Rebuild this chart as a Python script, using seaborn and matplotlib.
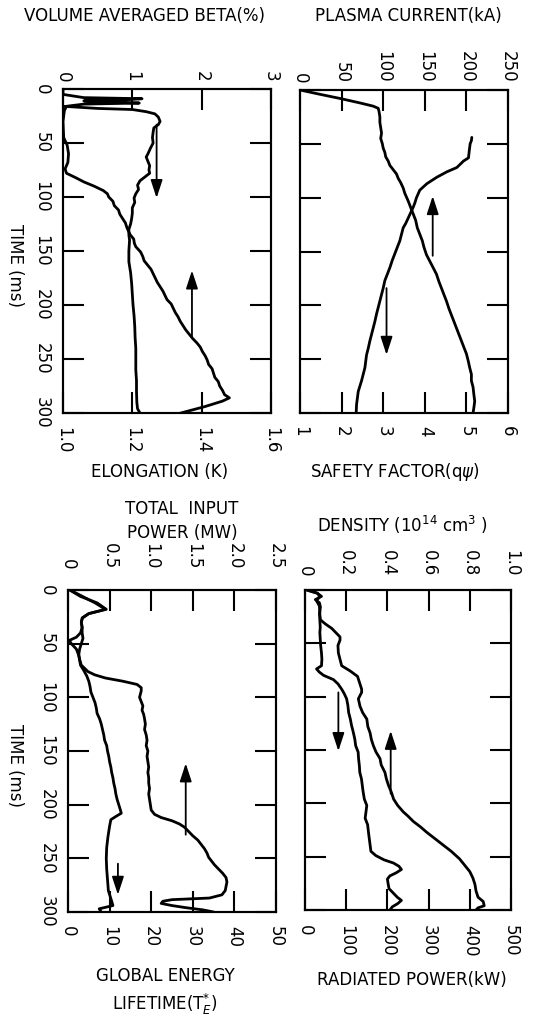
import matplotlib
matplotlib.use("Agg")
import matplotlib.pyplot as plt
import seaborn as sns

# ---------------- data ----------------
time_ticks = [0, 50, 100, 150, 200, 250, 300]

# volume averaged beta (%) and elongation
beta_t = [0, 5, 8, 9, 10, 11, 12, 13, 14, 16, 20, 30, 45, 52, 60, 68, 74, 78, 82, 86,
          90, 94, 97, 100, 104, 108, 112, 116, 120, 124, 128, 131, 135, 139, 143, 146, 151, 155, 159, 163,
          167, 171, 175, 179, 183, 187, 191, 195, 199, 203, 207, 211, 215, 219, 223, 227, 231, 235, 239, 243,
          247, 251, 255, 259, 263, 267, 271, 275, 279, 283, 286, 289, 294, 300]
beta_pct = [0.0, 0.0, 0.3, 1.14, 0.9, 0.3, 0.6, 1.1, 0.3, 0.05, 0.02, 0.0, 0.01, 0.06, 0.08, 0.07, 0.03, 0.05, 0.18, 0.30,
            0.45, 0.58, 0.64, 0.66, 0.72, 0.74, 0.80, 0.82, 0.86, 0.90, 0.92, 0.94, 0.97, 1.02, 1.03, 1.05, 1.12, 1.15, 1.17, 1.22,
            1.27, 1.30, 1.33, 1.36, 1.40, 1.44, 1.47, 1.50, 1.56, 1.59, 1.62, 1.66, 1.69, 1.73, 1.77, 1.82, 1.87, 1.93, 1.98, 2.01,
            2.05, 2.08, 2.10, 2.15, 2.17, 2.19, 2.24, 2.26, 2.30, 2.33, 2.40, 2.30, 2.05, 1.70]
kappa_t = [16, 18, 19, 21, 23, 26, 30, 33, 36, 40, 45, 50, 55, 60, 63, 67, 71, 75, 78, 81,
           85, 89, 93, 97, 101, 105, 110, 115, 120, 125, 130, 135, 140, 150, 160, 170, 180, 190, 200, 210,
           220, 230, 240, 250, 260, 270, 280, 290, 296, 300]
kappa = [1.00, 1.10, 1.20, 1.24, 1.265, 1.275, 1.28, 1.275, 1.262, 1.26, 1.258, 1.26, 1.252, 1.245, 1.24, 1.245, 1.25, 1.248, 1.25, 1.238,
         1.222, 1.215, 1.218, 1.21, 1.205, 1.207, 1.20, 1.20, 1.198, 1.195, 1.19, 1.19, 1.192, 1.19, 1.19, 1.195, 1.198, 1.20, 1.202, 1.205,
         1.207, 1.208, 1.21, 1.21, 1.21, 1.212, 1.212, 1.213, 1.215, 1.222]

# plasma current (kA) and safety factor
ip_t = [0, 4, 8, 12, 15, 17, 20, 25, 30, 35, 40, 45, 50, 54, 58, 62, 66, 70, 74, 78,
        82, 86, 91, 96, 103, 109, 115, 121, 128, 134, 140, 146, 153, 159, 165, 171, 178, 184, 190, 196,
        203, 209, 215, 221, 227, 233, 239, 245, 251, 258, 264, 270, 276, 283, 289, 295, 300]
ip_ka = [0, 24, 49, 72, 88, 94, 95, 96, 96, 97, 98, 97, 99, 100, 102, 103, 106, 108, 112, 116,
         118, 121, 124, 126, 130, 133, 136, 139, 141, 144, 147, 149, 152, 156, 160, 164, 167, 170, 173, 176,
         179, 182, 185, 188, 191, 194, 197, 200, 202, 204, 206, 206, 208, 209, 210, 209, 208]
q_t = [44, 47, 50, 56, 63, 66, 69, 72, 76, 81, 87, 93, 100, 105, 109, 114, 119, 124, 128, 134,
       140, 146, 152, 158, 165, 171, 177, 184, 190, 196, 202, 208, 215, 221, 227, 233, 240, 246, 252, 258,
       264, 270, 275, 280, 286, 292, 300]
q_psi = [5.13, 5.12, 5.09, 5.07, 5.05, 4.93, 4.85, 4.77, 4.53, 4.29, 4.05, 3.88, 3.80, 3.76, 3.72, 3.66, 3.60, 3.54, 3.48, 3.44,
         3.40, 3.34, 3.28, 3.22, 3.16, 3.10, 3.04, 3.00, 2.96, 2.92, 2.88, 2.84, 2.80, 2.76, 2.72, 2.68, 2.64, 2.60, 2.58, 2.56,
         2.52, 2.48, 2.44, 2.40, 2.38, 2.36, 2.35]

# total input power (MW) and global energy lifetime (ms)
pin_t = [0, 6, 12, 18, 22, 26, 30, 35, 40, 45, 50, 55, 60, 65, 70, 73, 76, 79, 82, 85,
         88, 91, 94, 97, 100, 104, 108, 112, 116, 120, 125, 130, 135, 140, 145, 150, 155, 160, 165, 170,
         175, 180, 185, 190, 195, 200, 205, 209, 212, 215, 218, 221, 225, 229, 233, 237, 241, 245, 249, 252,
         256, 260, 264, 268, 272, 276, 280, 284, 287, 288.5, 290, 292, 294, 296, 298, 300]
pin_mw = [0.02, 0.15, 0.35, 0.46, 0.25, 0.17, 0.16, 0.17, 0.17, 0.18, 0.16, 0.14, 0.13, 0.14, 0.16, 0.20, 0.24, 0.32, 0.45, 0.66,
          0.83, 0.88, 0.88, 0.87, 0.86, 0.88, 0.90, 0.89, 0.91, 0.92, 0.93, 0.92, 0.94, 0.95, 0.94, 0.96, 0.95, 0.96, 0.97, 0.96,
          0.97, 0.97, 0.98, 0.97, 0.98, 0.99, 1.00, 1.04, 1.12, 1.25, 1.34, 1.40, 1.45, 1.50, 1.56, 1.60, 1.64, 1.67, 1.69, 1.72,
          1.76, 1.81, 1.86, 1.90, 1.91, 1.90, 1.89, 1.85, 1.70, 1.25, 1.14, 1.12, 1.25, 1.42, 1.62, 1.75]
tau_t = [0, 6, 12, 18, 22, 26, 30, 35, 40, 44, 47, 50, 55, 60, 65, 70, 75, 80, 85, 90,
         95, 100, 105, 110, 115, 120, 125, 130, 135, 140, 145, 150, 155, 160, 165, 170, 175, 180, 185, 190,
         195, 200, 205, 208, 211, 214, 220, 230, 240, 250, 260, 270, 280, 290, 294, 297, 300]
tau_ms = [0.5, 3.5, 6.5, 9.0, 5.0, 3.5, 3.2, 3.4, 3.0, 2.0, 0.3, 0.8, 2.0, 2.5, 2.8, 3.0, 3.8, 4.5, 5.0, 5.3,
          5.5, 6.0, 6.5, 6.8, 7.0, 7.6, 8.0, 8.3, 8.6, 8.8, 9.3, 9.5, 9.8, 10.0, 10.3, 10.5, 10.8, 11.0, 11.3, 11.5,
          11.8, 12.2, 12.6, 12.8, 11.5, 10.3, 10.0, 9.6, 9.3, 9.2, 9.3, 9.5, 9.7, 10.5, 10.8, 7.5, 8.0]

# density (1e14 cm^-3) and radiated power (kW)
ne_t = [0, 3, 6, 9, 12, 16, 22, 28, 32, 36, 40, 44, 47, 52, 59, 65, 71, 76, 81, 87,
        93, 96, 102, 109, 115, 121, 128, 134, 140, 146, 152, 158, 164, 171, 177, 183, 190, 196, 202, 208,
        212, 217, 222, 227, 233, 239, 245, 252, 258, 264, 270, 276, 282, 288, 292, 296, 298, 300]
ne = [0.01, 0.06, 0.08, 0.05, 0.07, 0.075, 0.07, 0.075, 0.10, 0.13, 0.15, 0.17, 0.17, 0.16, 0.162, 0.17, 0.178, 0.22, 0.255, 0.265,
      0.275, 0.275, 0.259, 0.267, 0.28, 0.30, 0.305, 0.316, 0.322, 0.332, 0.345, 0.364, 0.37, 0.388, 0.395, 0.405, 0.42, 0.43, 0.45, 0.477,
      0.50, 0.526, 0.56, 0.59, 0.63, 0.67, 0.71, 0.75, 0.775, 0.80, 0.815, 0.825, 0.83, 0.84, 0.865, 0.87, 0.84, 0.83]
prad_t = [0, 3, 6, 10, 15, 20, 28, 35, 40, 46, 52, 59, 65, 71, 74, 77, 80, 84, 88, 93,
          97, 102, 108, 115, 121, 127, 133, 140, 146, 152, 158, 165, 171, 177, 183, 189, 196, 202, 208, 214,
          220, 227, 233, 239, 245, 249, 253, 256, 259, 262, 265, 268, 271, 276, 280, 284, 288, 291, 294, 297, 300]
prad_kw = [4, 30, 36, 28, 35, 36, 36, 37, 36, 37, 38, 40, 41, 40, 28, 35, 45, 69, 80, 89,
           95, 101, 104, 106, 110, 113, 117, 121, 123, 129, 130, 132, 133, 137, 139, 141, 144, 150, 148, 146,
           152, 154, 156, 158, 160, 172, 192, 215, 228, 234, 222, 206, 200, 202, 204, 214, 224, 234, 225, 212, 206]

# ---------------- style ----------------
sns.set_style("white")
plt.rcParams["font.family"] = ["DejaVu Sans"]
plt.rcParams["mathtext.fontset"] = "dejavusans"
plt.rcParams["text.color"] = "black"
plt.rcParams["xtick.color"] = "black"
plt.rcParams["ytick.color"] = "black"
plt.rcParams["axes.edgecolor"] = "black"

FIG_W, FIG_H = 535, 1028
fig = plt.figure(figsize=(FIG_W / 100, FIG_H / 100), dpi=100)

TICK_FONT = ["Liberation Sans Narrow", "DejaVu Sans"]
TICK_FS = 12
TITLE_FS = 12
LW_FRAME = 1.5
LW_CURVE = 2.0


def px_rect(x0, y0, x1, y1):
    return [x0 / FIG_W, 1 - y1 / FIG_H, (x1 - x0) / FIG_W, (y1 - y0) / FIG_H]


def style_labels(labels, **kw):
    for lab in labels:
        lab.set_fontfamily(TICK_FONT)
        lab.set_fontsize(TICK_FS)
        lab.set_color("black")
        lab.set_rotation(-90)
        for k, v in kw.items():
            getattr(lab, "set_" + k)(v)


def make_panel(rect, bot_lim, bot_ticks, bot_labels, top_lim, top_ticks, top_labels,
               show_time, bot_pad, top_pad):
    ax = fig.add_axes(rect)
    ax2 = ax.twiny()
    ax.set_xlim(*bot_lim)
    ax2.set_xlim(*top_lim)
    ax.set_ylim(300, 0)
    for a in (ax, ax2):
        for s in a.spines.values():
            s.set_linewidth(LW_FRAME)
            s.set_color("black")
        a.set_facecolor("none")
    ax.set_xticks(bot_ticks)
    ax.set_xticklabels(bot_labels)
    style_labels(ax.get_xticklabels(), ha="center", va="top")
    ax.tick_params(axis="x", direction="in", length=15, width=1.5, top=False, bottom=True,
                   pad=bot_pad, color="black")
    ax2.set_xticks(top_ticks)
    ax2.set_xticklabels(top_labels)
    style_labels(ax2.get_xticklabels(), ha="center", va="bottom")
    ax2.tick_params(axis="x", direction="in", length=15, width=1.5, top=True, bottom=False,
                    labeltop=True, labelbottom=False, pad=top_pad, color="black")
    ax.set_yticks(time_ticks)
    if show_time:
        ax.set_yticklabels([str(v) for v in time_ticks])
        style_labels(ax.get_yticklabels(), ha="right", va="center")
    else:
        ax.set_yticklabels([])
    ax.tick_params(axis="y", direction="in", length=15, width=1.5, left=True, right=True,
                   labelleft=show_time, pad=9, color="black")
    ax.set_xlabel("")
    ax.set_ylabel("")
    return ax, ax2


def trace(ax, t, v):
    sns.lineplot(x=v, y=t, ax=ax, sort=False, estimator=None, orient="y", color="black",
                 linewidth=LW_CURVE, solid_joinstyle="round", solid_capstyle="round")
    ax.set_xlabel("")
    ax.set_ylabel("")


def arrow(ax, x, t_from, t_to):
    ax.annotate("", xy=(x, t_to), xytext=(x, t_from),
                arrowprops=dict(arrowstyle="-|>,head_length=0.55,head_width=0.18",
                                color="black", lw=1.3, mutation_scale=20,
                                shrinkA=0, shrinkB=0))


# ---------------- top-left: beta / elongation ----------------
ax, ax2 = make_panel(px_rect(63, 89, 271, 413),
                     (1.0, 1.6), [1.0, 1.2, 1.4, 1.6], ["1.0", "1.2", "1.4", "1.6"],
                     (0, 3), [0, 1, 2, 3], ["0", "1", "2", "3"],
                     True, 10, 5)
trace(ax, kappa_t, kappa)
trace(ax2, beta_t, beta_pct)
arrow(ax, 1.27, 33, 101)
arrow(ax2, 1.86, 230, 168)
ax.set_ylim(300, 0)

# ---------------- top-right: current / safety factor ----------------
ax, ax2 = make_panel(px_rect(300, 90, 508, 413),
                     (1, 6), [1, 2, 3, 4, 5, 6], ["1", "2", "3", "4", "5", "6"],
                     (0, 250), [0, 50, 100, 150, 200, 250], ["0", "50", "100", "150", "200", "250"],
                     False, 9, 5)
trace(ax, q_t, q_psi)
trace(ax2, ip_t, ip_ka)
arrow(ax, 3.08, 184, 246)
arrow(ax2, 159.5, 154, 98.5)
ax.set_ylim(300, 0)

# ---------------- bottom-left: input power / energy lifetime ----------------
ax, ax2 = make_panel(px_rect(68, 590, 276, 912),
                     (0, 50), [0, 10, 20, 30, 40, 50], ["0", "10", "20", "30", "40", "50"],
                     (0, 2.5), [0, 0.5, 1.0, 1.5, 2.0, 2.5], ["0", "0.5", "1.0", "1.5", "2.0", "2.5"],
                     True, 10, 15)
trace(ax, tau_t, tau_ms)
trace(ax2, pin_t, pin_mw)
arrow(ax, 12.0, 255, 284)
arrow(ax2, 1.415, 228, 161.5)
ax.set_ylim(300, 0)

# ---------------- bottom-right: density / radiated power ----------------
ax, ax2 = make_panel(px_rect(305, 590, 511, 910),
                     (0, 500), [0, 100, 200, 300, 400, 500], ["0", "100", "200", "300", "400", "500"],
                     (0, 1.0), [0, 0.2, 0.4, 0.6, 0.8, 1.0], ["0", "0.2", "0.4", "0.6", "0.8", "1.0"],
                     False, 11, 10)
trace(ax, prad_t, prad_kw)
trace(ax2, ne_t, ne)
arrow(ax, 81, 96, 151)
arrow(ax2, 0.416, 191, 132)
ax.set_ylim(300, 0)

# ---------------- axis titles ----------------
def ftext(x, y, s, **kw):
    fig.text(x / FIG_W, 1 - y / FIG_H, s, ha="center", va="center", fontsize=TITLE_FS,
             color="black", **kw)

ftext(145, 16, "VOLUME AVERAGED BETA(%)")
ftext(408, 16, "PLASMA CURRENT(kA)")
ftext(160, 472, "ELONGATION (K)")
ftext(395, 472, r"SAFETY FACTOR(q$\psi$)")
ftext(182, 521, "TOTAL  INPUT\nPOWER (MW)", linespacing=1.4)
ftext(402, 525, r"DENSITY (10$^{14}$ cm$^{3}$ )")
ftext(165, 992, "GLOBAL ENERGY\nLIFETIME(T$_E^{*}$)", linespacing=1.4)
ftext(412, 980, "RADIATED POWER(kW)")
ftext(15, 265, "TIME (ms)", rotation=-90)
ftext(15, 765, "TIME (ms)", rotation=-90)

fig.savefig("out.png", dpi=100, facecolor="white")
